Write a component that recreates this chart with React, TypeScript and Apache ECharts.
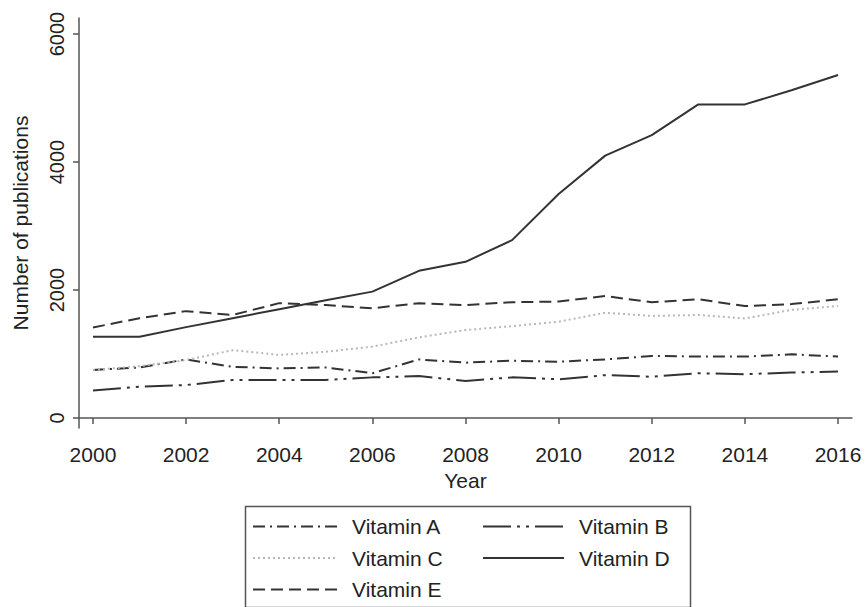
import React, { useEffect, useRef } from "react";
import * as echarts from "echarts";

const years = [2000, 2001, 2002, 2003, 2004, 2005, 2006, 2007, 2008, 2009, 2010, 2011, 2012, 2013, 2014, 2015, 2016];
const vitaminA = [750, 790, 915, 800, 775, 790, 700, 915, 865, 895, 880, 915, 970, 960, 960, 995, 960];
const vitaminB = [430, 490, 515, 595, 595, 595, 635, 655, 580, 635, 605, 670, 645, 700, 685, 710, 725];
const vitaminC = [750, 810, 905, 1060, 985, 1035, 1115, 1260, 1375, 1435, 1505, 1645, 1595, 1610, 1555, 1690, 1750];
const vitaminD = [1270, 1270, 1420, 1560, 1700, 1840, 1975, 2300, 2440, 2780, 3500, 4100, 4420, 4900, 4900, 5120, 5360];
const vitaminE = [1415, 1560, 1670, 1610, 1795, 1765, 1715, 1795, 1765, 1810, 1820, 1905, 1810, 1855, 1750, 1780, 1855];
const yTicks = [0, 2000, 4000, 6000];
const xTicks = [2000, 2002, 2004, 2006, 2008, 2010, 2012, 2014, 2016];

const FONT = "Liberation Sans, Arial, Helvetica, sans-serif";
const INK = "#222222";
const LINE = "#333333";

function pairs(vals: number[]) {
  return years.map((y, i) => [y, vals[i]]);
}

export default function App() {
  const ref = useRef<HTMLDivElement>(null);
  useEffect(() => {
    if (!ref.current) return;
    const chart = echarts.init(ref.current, null, { renderer: "svg" });
    const mk = (name: string, data: number[], type: any, color: string, width = 2) => ({
      name,
      type: "line",
      data: pairs(data),
      symbol: "none",
      showSymbol: false,
      lineStyle: { color, width, type },
      itemStyle: { color },
      z: 3,
    });
    const legendBase = {
      orient: "vertical",
      top: 516,
      padding: 0,
      itemHeight: 20,
      itemGap: 10.5,
      selectedMode: false,
      itemStyle: { opacity: 0, borderWidth: 0 },
    };
    chart.setOption({
      animation: false,
      backgroundColor: "#ffffff",
      textStyle: { fontFamily: FONT },
      grid: { left: 79, right: 14, top: 18, bottom: 179, containLabel: false },
      xAxis: {
        type: "value",
        min: 1999.7,
        max: 2016.3,
        name: "Year",
        nameLocation: "middle",
        nameGap: 42,
        nameTextStyle: { fontSize: 21, color: INK, fontFamily: FONT },
        axisLine: { show: true, lineStyle: { color: "#555", width: 1.5 } },
        axisTick: { show: true, length: 6, lineStyle: { color: "#555", width: 1.5 }, customValues: xTicks },
        axisLabel: { customValues: xTicks, fontSize: 21, color: INK, margin: 16, fontFamily: FONT, formatter: (v: number) => String(v) },
        splitLine: { show: false },
      },
      yAxis: {
        type: "value",
        min: -156,
        max: 6250,
        name: "Number of publications",
        nameLocation: "middle",
        nameGap: 48,
        nameRotate: 90,
        nameTextStyle: { fontSize: 21, color: INK, fontFamily: FONT },
        axisLine: { show: true, lineStyle: { color: "#555", width: 1.5 } },
        axisTick: { show: true, length: 6, lineStyle: { color: "#555", width: 1.5 }, customValues: yTicks },
        axisLabel: { customValues: yTicks, rotate: 90, fontSize: 20, color: INK, margin: 12, fontFamily: FONT, formatter: (v: number) => String(v) },
        splitLine: { show: false },
      },
      legend: [
        {
          ...legendBase,
          left: 252,
          itemWidth: 85,
          data: ["Vitamin A", "Vitamin C", "Vitamin E"],
          textStyle: { fontSize: 21, lineHeight: 20, color: INK, fontFamily: FONT, padding: [0, 0, 0, 9] },
        },
        {
          ...legendBase,
          left: 482,
          itemWidth: 81,
          data: ["Vitamin B", "Vitamin D"],
          textStyle: { fontSize: 21, lineHeight: 20, color: INK, fontFamily: FONT, padding: [0, 0, 0, 10] },
        },
      ],
      graphic: [
        {
          type: "rect",
          left: 243,
          top: 504,
          shape: { x: 0, y: 0, width: 445, height: 101 },
          style: { fill: "none", stroke: "#555", lineWidth: 1.5 },
          silent: true,
        },
      ],
      series: [
        mk("Vitamin A", vitaminA, [12, 5, 2, 5], LINE),
        mk("Vitamin B", vitaminB, [28, 6, 3, 6, 3, 6], LINE),
        mk("Vitamin C", vitaminC, [2, 3], "#b8b8b8"),
        mk("Vitamin D", vitaminD, "solid", LINE),
        mk("Vitamin E", vitaminE, [12, 6], LINE),
      ],
    });
    return () => chart.dispose();
  }, []);
  return <div ref={ref} style={{ position: "fixed", left: 0, top: 0, width: 866, height: 607 }} />;
}
